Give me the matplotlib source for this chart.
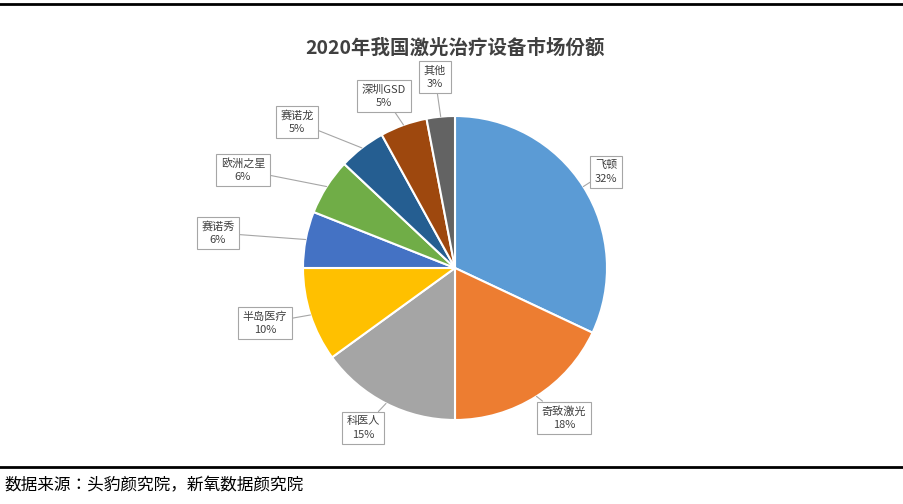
import matplotlib.pyplot as plt
import numpy as np

plt.rcParams['font.family'] = ['Noto Sans CJK JP', 'Noto Sans CJK SC', 'DejaVu Sans']

names = ['飞顿', '奇致激光', '科医人', '半岛医疗', '赛诺秀', '欧洲之星', '赛诺龙', '深圳GSD', '其他']
shares = [32, 18, 15, 10, 6, 6, 5, 5, 3]
colors = ['#5B9BD5', '#ED7D31', '#A5A5A5', '#FFC000', '#4472C4',
          '#70AD47', '#255E91', '#9E480E', '#636363']
# label box centres in pixel coordinates (x, y from top)
label_pos = [(606, 172), (564, 418), (363, 428), (265, 323), (218, 233),
             (243, 170), (297, 122), (384, 96), (435, 77)]

W, H = 904, 504
fig = plt.figure(figsize=(W / 100, H / 100), dpi=100)
ax = fig.add_axes([0, 0, 1, 1])

cx, cy, r = 455, H - 268, 152
wedges, _ = ax.pie(shares, colors=colors, startangle=90, counterclock=False,
                   center=(cx, cy), radius=r, frame=True,
                   wedgeprops=dict(edgecolor='white', linewidth=1.5))
ax.set_xlim(0, W)
ax.set_ylim(0, H)
ax.set_aspect('equal')
ax.axis('off')

for w, name, val, (lx, ly) in zip(wedges, names, shares, label_pos):
    ang = np.deg2rad((w.theta1 + w.theta2) / 2)
    px, py = cx + r * np.cos(ang), cy + r * np.sin(ang)
    ax.annotate(f'{name}\n{val}%', xy=(px, py), xytext=(lx, H - ly),
                ha='center', va='center', fontsize=8, color='#404040',
                linespacing=1.4,
                bbox=dict(boxstyle='square,pad=0.4', fc='white', ec='#A6A6A6', lw=0.8),
                arrowprops=dict(arrowstyle='-', color='#A6A6A6', lw=0.8,
                                shrinkA=0, shrinkB=0))

ax.text(455, H - 48, '2020年我国激光治疗设备市场份额', ha='center', va='center',
        fontsize=14, fontweight='bold', color='#404040')
ax.plot([0, W], [H - 4, H - 4], color='black', lw=2)
ax.plot([0, W], [H - 467, H - 467], color='black', lw=2)
ax.text(4, H - 486, '数据来源：头豹颜究院，新氧数据颜究院', ha='left', va='center',
        fontsize=12, style='italic', color='black')

fig.savefig('out.png', dpi=100)
